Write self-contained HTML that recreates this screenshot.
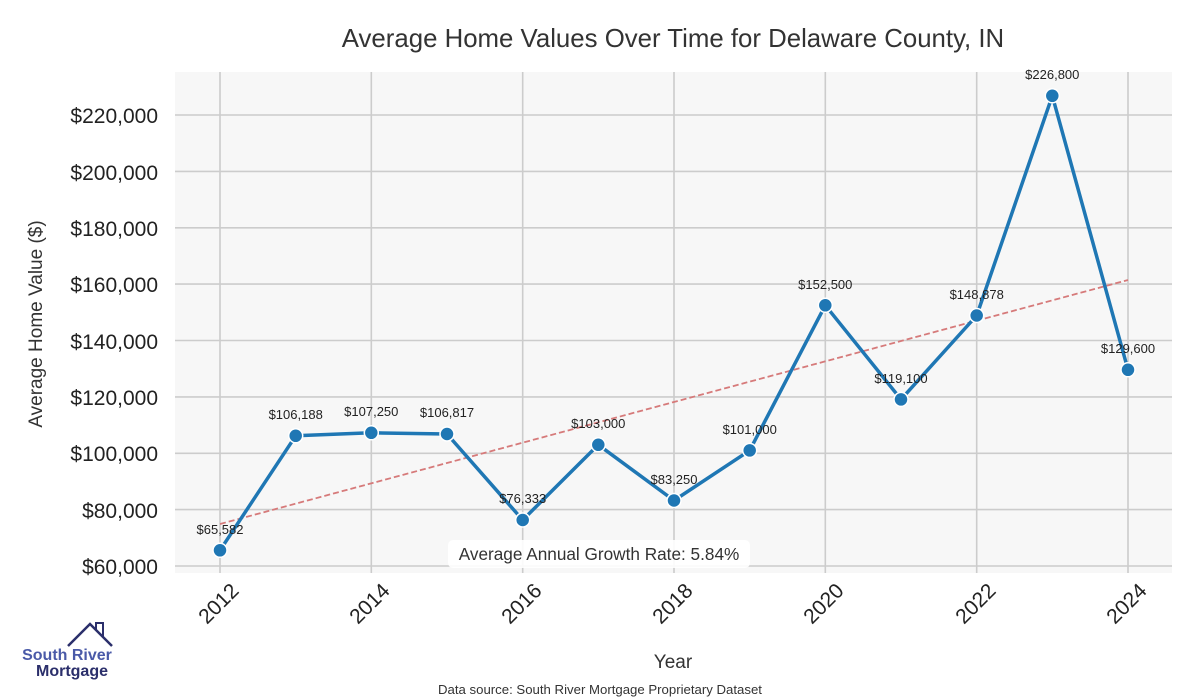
<!DOCTYPE html>
<html><head><meta charset="utf-8"><style>body{margin:0;background:#fff}svg{display:block}</style></head><body>
<svg width="1200" height="700" xmlns="http://www.w3.org/2000/svg" font-family="Liberation Sans, sans-serif">
<rect x="175" y="72" width="997" height="501" fill="#f7f7f7"/>
<g stroke="#cccccc" stroke-width="1.6">
<line x1="220" y1="72" x2="220" y2="573"/><line x1="371.3" y1="72" x2="371.3" y2="573"/><line x1="522.7" y1="72" x2="522.7" y2="573"/><line x1="674" y1="72" x2="674" y2="573"/><line x1="825.3" y1="72" x2="825.3" y2="573"/><line x1="976.7" y1="72" x2="976.7" y2="573"/><line x1="1128" y1="72" x2="1128" y2="573"/>
<line x1="175" y1="566" x2="1172" y2="566"/><line x1="175" y1="509.6" x2="1172" y2="509.6"/><line x1="175" y1="453.3" x2="1172" y2="453.3"/><line x1="175" y1="396.9" x2="1172" y2="396.9"/><line x1="175" y1="340.5" x2="1172" y2="340.5"/><line x1="175" y1="284.1" x2="1172" y2="284.1"/><line x1="175" y1="227.8" x2="1172" y2="227.8"/><line x1="175" y1="171.4" x2="1172" y2="171.4"/><line x1="175" y1="115" x2="1172" y2="115"/>
</g>
<g font-size="21" fill="#222" text-anchor="end">
<text x="158" y="574">$60,000</text><text x="158" y="518">$80,000</text><text x="158" y="461">$100,000</text><text x="158" y="405">$120,000</text><text x="158" y="349">$140,000</text><text x="158" y="292">$160,000</text><text x="158" y="236">$180,000</text><text x="158" y="180">$200,000</text><text x="158" y="123">$220,000</text>
</g>
<g font-size="21" fill="#222" text-anchor="end">
<text transform="translate(240,592) rotate(-45)">2012</text><text transform="translate(391,592) rotate(-45)">2014</text><text transform="translate(543,592) rotate(-45)">2016</text><text transform="translate(694,592) rotate(-45)">2018</text><text transform="translate(845,592) rotate(-45)">2020</text><text transform="translate(997,592) rotate(-45)">2022</text><text transform="translate(1148,592) rotate(-45)">2024</text>
</g>
<text x="673" y="668" font-size="19" fill="#333" text-anchor="middle">Year</text>
<text transform="translate(42,324) rotate(-90)" font-size="19" fill="#333" text-anchor="middle">Average Home Value ($)</text>
<text x="673" y="47" font-size="25.8" fill="#333" text-anchor="middle">Average Home Values Over Time for Delaware County, IN</text>
<line x1="220" y1="524" x2="1128" y2="280" stroke="#d67a7a" stroke-width="1.8" stroke-dasharray="6,3"/>
<polyline fill="none" stroke="#1f77b4" stroke-width="3.5" stroke-linejoin="round" points="220,550.3 295.7,435.8 371.3,432.8 447,434 522.7,520 598.3,444.8 674,500.5 749.7,450.4 825.3,305.3 901,399.4 976.7,315.5 1052.3,95.8 1128,369.8"/>
<g fill="#1f77b4" stroke="#fff" stroke-width="1.5">
<circle cx="220" cy="550.3" r="7"/><circle cx="295.7" cy="435.8" r="7"/><circle cx="371.3" cy="432.8" r="7"/><circle cx="447" cy="434" r="7"/><circle cx="522.7" cy="520" r="7"/><circle cx="598.3" cy="444.8" r="7"/><circle cx="674" cy="500.5" r="7"/><circle cx="749.7" cy="450.4" r="7"/><circle cx="825.3" cy="305.3" r="7"/><circle cx="901" cy="399.4" r="7"/><circle cx="976.7" cy="315.5" r="7"/><circle cx="1052.3" cy="95.8" r="7"/><circle cx="1128" cy="369.8" r="7"/>
</g>
<g font-size="13" fill="#222" text-anchor="middle">
<text x="220" y="534">$65,582</text><text x="295.7" y="419">$106,188</text><text x="371.3" y="416">$107,250</text><text x="447" y="417">$106,817</text><text x="522.7" y="503">$76,333</text><text x="598.3" y="428">$103,000</text><text x="674" y="484">$83,250</text><text x="749.7" y="434">$101,000</text><text x="825.3" y="289">$152,500</text><text x="901" y="383">$119,100</text><text x="976.7" y="299">$148,878</text><text x="1052.3" y="79">$226,800</text><text x="1128" y="353">$129,600</text>
</g>
<rect x="448" y="540" width="302" height="28" rx="5" fill="#fff" opacity="0.9"/>
<text x="599" y="560" font-size="17.2" fill="#333" text-anchor="middle">Average Annual Growth Rate: 5.84%</text>
<text x="600" y="694" font-size="13.2" fill="#333" text-anchor="middle">Data source: South River Mortgage Proprietary Dataset</text>
<polyline points="68,646 90,624 112,646" fill="none" stroke="#2b2f6b" stroke-width="2.5"/>
<polyline points="96,630 96,623 103,623 103,637" fill="none" stroke="#2b2f6b" stroke-width="2"/>
<text x="67" y="660" font-size="16" font-weight="bold" fill="#4a5aa8" text-anchor="middle">South River</text>
<text x="72" y="676" font-size="16" font-weight="bold" fill="#2b2f6b" text-anchor="middle">Mortgage</text>
</svg>
</body></html>
